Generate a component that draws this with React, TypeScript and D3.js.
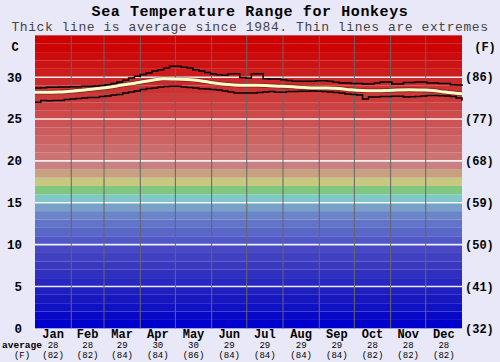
import React from "react";
import * as d3 from "d3";

const title = "Sea Temperature Range for Honkeys";
const subtitle = "Thick line is average since 1984. Thin lines are extremes";

const months = ["Jan", "Feb", "Mar", "Apr", "May", "Jun", "Jul", "Aug", "Sep", "Oct", "Nov", "Dec"];
const monthDays = [31, 28, 31, 30, 31, 30, 31, 31, 30, 31, 30, 31];
const monthAvgC = [28, 28, 29, 30, 30, 29, 29, 29, 29, 28, 28, 28];
const monthAvgF = [82, 82, 84, 84, 86, 84, 84, 84, 84, 82, 82, 82];

const cTicks = [0, 5, 10, 15, 20, 25, 30];
const fTicks = ["(32)", "(41)", "(50)", "(59)", "(68)", "(77)", "(86)"];

// average, every 10 days (day 0..360, then 365)
const avgDays = [0, 10, 20, 30, 40, 50, 60, 70, 80, 90, 100, 110, 120, 130, 140, 150, 160, 170, 180, 190, 200, 210, 220, 230, 240, 250, 260, 270, 280, 290, 300, 310, 320, 330, 340, 350, 360, 365];
const avgValues = [28.2, 28.2, 28.23, 28.32, 28.43, 28.59, 28.73, 28.95, 29.19, 29.39, 29.63, 29.82, 29.79, 29.73, 29.61, 29.37, 29.19, 29.07, 29.03, 29.03, 28.98, 28.92, 28.85, 28.77, 28.71, 28.71, 28.65, 28.49, 28.41, 28.39, 28.41, 28.48, 28.51, 28.47, 28.41, 28.23, 28.08, 28.03];

// extremes, every 5 days (day 0..360, then 365)
const extDays = [0, 5, 10, 15, 20, 25, 30, 35, 40, 45, 50, 55, 60, 65, 70, 75, 80, 85, 90, 95, 100, 105, 110, 115, 120, 125, 130, 135, 140, 145, 150, 155, 160, 165, 170, 175, 180, 185, 190, 195, 200, 205, 210, 215, 220, 225, 230, 235, 240, 245, 250, 255, 260, 265, 270, 275, 280, 285, 290, 295, 300, 305, 310, 315, 320, 325, 330, 335, 340, 345, 350, 355, 360, 365];
const maxValues = [28.71, 28.75, 28.79, 28.79, 28.83, 28.83, 28.87, 28.87, 28.91, 28.91, 28.95, 29.0, 29.1, 29.25, 29.43, 29.65, 29.9, 30.1, 30.32, 30.5, 30.74, 30.9, 31.1, 31.3, 31.3, 31.2, 31.1, 30.9, 30.74, 30.55, 30.38, 30.3, 30.23, 30.4, 30.4, 29.95, 29.9, 30.4, 30.4, 29.8, 29.79, 29.79, 29.7, 29.6, 29.51, 29.51, 29.51, 29.51, 29.58, 29.58, 29.51, 29.4, 29.31, 29.31, 29.25, 29.25, 29.19, 29.19, 29.31, 29.43, 29.43, 29.19, 29.19, 29.37, 29.37, 29.43, 29.43, 29.31, 29.31, 29.25, 29.25, 29.1, 29.07, 28.95];
const minValues = [27.0, 27.22, 27.19, 27.22, 27.22, 27.34, 27.4, 27.46, 27.51, 27.57, 27.57, 27.69, 27.75, 27.87, 27.93, 28.11, 28.23, 28.35, 28.53, 28.65, 28.71, 28.83, 28.89, 28.91, 28.91, 28.83, 28.77, 28.71, 28.63, 28.59, 28.53, 28.47, 28.35, 28.23, 28.11, 28.11, 28.11, 28.11, 28.17, 28.23, 28.29, 28.2, 28.2, 28.29, 28.29, 28.32, 28.32, 28.35, 28.32, 28.29, 28.23, 28.17, 28.11, 27.99, 27.93, 27.87, 27.4, 27.63, 27.63, 27.69, 27.69, 27.72, 27.72, 27.63, 27.65, 27.69, 27.75, 27.81, 27.81, 27.78, 27.75, 27.69, 27.51, 27.19];

const bandColors = [
  "#0000cc", "#0808c8", "#1010c4", "#1818c0", "#2020c0",
  "#2828c0", "#3030c0", "#3838c0", "#4040c0", "#4848c4",
  "#5058c8", "#5a66c8", "#6274c8", "#6c84c8", "#78a0c8",
  "#80c8c8", "#80c880", "#c8c880", "#c8a080", "#c88080",
  "#cc7474", "#cc6c6c", "#cc6464", "#cc5c5c", "#cc5454",
  "#cc4a4a", "#cc4242", "#cc3a3a", "#cc3232", "#cc2a2a",
  "#cc1c1c", "#cc1414", "#cc0c0c", "#cc0404", "#cc0000",
];

const W = 500;
const H = 362;
const FONT = "'Liberation Mono', 'Courier New', monospace";

export default function App() {
  const x = d3.scaleLinear().domain([0, 365]).range([35, 462]);
  const y = d3.scaleLinear().domain([0, 35]).range([328.3, 35.35]);

  const bounds = d3.cumsum(monthDays);
  const starts = [0, ...Array.from(bounds).slice(0, 11)];

  const stepLine = d3
    .line<[number, number]>()
    .x((d) => x(d[0]))
    .y((d) => y(d[1]))
    .curve(d3.curveStepAfter);
  const smoothLine = d3
    .line<[number, number]>()
    .x((d) => x(d[0]))
    .y((d) => y(d[1]))
    .curve(d3.curveMonotoneX);

  const maxPts = extDays.map((d, i) => [d, maxValues[i]] as [number, number]);
  const minPts = extDays.map((d, i) => [d, minValues[i]] as [number, number]);
  const avgPts = avgDays.map((d, i) => [d, avgValues[i]] as [number, number]);

  return (
    <svg width={W} height={H} style={{ position: "absolute", left: 0, top: 0 }}>
      <rect x={0} y={0} width={W} height={H} fill="#e8e8f8" />
      <text x={250} y={15.5} textAnchor="middle" fontFamily={FONT} fontWeight="bold" fontSize={15} letterSpacing={0.6} fill="#000">
        {title}
      </text>
      <text x={250} y={31} textAnchor="middle" fontFamily={FONT} fontSize={13} letterSpacing={0.57} fill="#444">
        {subtitle}
      </text>

      {bandColors.map((c, i) => (
        <rect key={i} x={x(0)} y={y(i + 1)} width={x(365) - x(0)} height={y(i) - y(i + 1)} fill={c} />
      ))}

      {cTicks.filter((t) => t > 0).map((t) => (
        <line key={t} x1={x(0)} x2={x(365)} y1={y(t)} y2={y(t)} stroke="#ffffff" strokeWidth={1.6} opacity={0.9} />
      ))}

      {Array.from(bounds).slice(0, 11).map((b, i) => (
        <line key={i} x1={x(b)} x2={x(b)} y1={y(35)} y2={y(0)} stroke="#666" strokeWidth={1} />
      ))}

      <path d={stepLine(maxPts) || ""} fill="none" stroke="#000" strokeWidth={1.5} />
      <path d={stepLine(minPts) || ""} fill="none" stroke="#000" strokeWidth={1.5} />
      <path d={smoothLine(avgPts) || ""} fill="none" stroke="#000" strokeWidth={4.6} opacity={0.35} />
      <path d={smoothLine(avgPts) || ""} fill="none" stroke="#ffffc8" strokeWidth={3} />

      {cTicks.map((t) => (
        <text key={t} x={22} y={y(t)} dy="0.35em" textAnchor="end" fontFamily={FONT} fontWeight="bold" fontSize={12.5} fill="#000">
          {t}
        </text>
      ))}
      {fTicks.map((t, i) => (
        <text key={t} x={465} y={y(cTicks[i])} dy="0.35em" textAnchor="start" fontFamily={FONT} fontWeight="bold" fontSize={12} fill="#000">
          {t}
        </text>
      ))}
      <text x={15} y={47} dy="0.35em" textAnchor="middle" fontFamily={FONT} fontWeight="bold" fontSize={12} fill="#000">C</text>
      <text x={485} y={47} dy="0.35em" textAnchor="middle" fontFamily={FONT} fontWeight="bold" fontSize={12} fill="#000">(F)</text>

      {months.map((m, i) => {
        const cx = x(starts[i] + monthDays[i] / 2);
        return (
          <g key={m}>
            <text x={cx} y={338} textAnchor="middle" fontFamily={FONT} fontWeight="bold" fontSize={12} fill="#000">{m}</text>
            <text x={cx} y={348} textAnchor="middle" fontFamily={FONT} fontSize={9} fill="#000">{monthAvgC[i]}</text>
            <text x={cx} y={358} textAnchor="middle" fontFamily={FONT} fontSize={9} fill="#000">({monthAvgF[i]})</text>
          </g>
        );
      })}
      <text x={22} y={348} textAnchor="middle" fontFamily={FONT} fontWeight="bold" fontSize={9.5} fill="#000">average</text>
      <text x={22} y={358} textAnchor="middle" fontFamily={FONT} fontSize={9} fill="#000">(F)</text>
    </svg>
  );
}
